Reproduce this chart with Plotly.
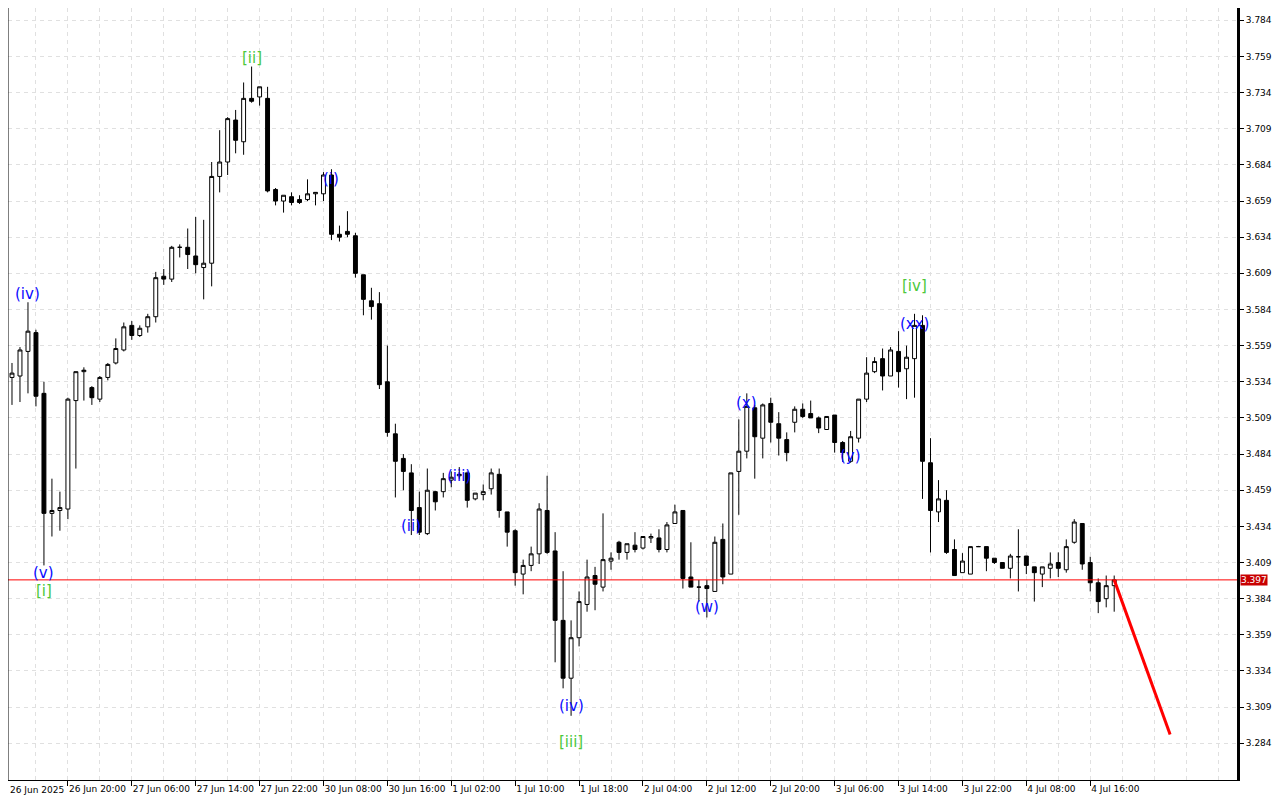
import plotly.graph_objects as go

opens = [3.559, 3.537, 3.538, 3.555, 3.568, 3.526, 3.443, 3.445, 3.446, 3.521,
         3.541, 3.530, 3.522, 3.537, 3.547, 3.556, 3.573, 3.566, 3.572, 3.579,
         3.607, 3.605, 3.627, 3.627, 3.621, 3.613, 3.616, 3.676, 3.686, 3.715,
         3.700, 3.730, 3.731, 3.730, 3.667, 3.659, 3.662, 3.660, 3.660, 3.664,
         3.664, 3.677, 3.636, 3.638, 3.635, 3.608, 3.590, 3.588, 3.534, 3.498,
         3.481, 3.471, 3.447, 3.429, 3.458, 3.458, 3.466, 3.469, 3.471, 3.453,
         3.456, 3.460, 3.470, 3.444, 3.431, 3.401, 3.407, 3.415, 3.445, 3.417,
         3.369, 3.329, 3.357, 3.380, 3.400, 3.392, 3.410, 3.423, 3.416, 3.421,
         3.419, 3.426, 3.426, 3.418, 3.436, 3.445, 3.399, 3.392, 3.393, 3.389,
         3.425, 3.401, 3.472, 3.486, 3.516, 3.495, 3.519, 3.505, 3.494, 3.506,
         3.515, 3.512, 3.509, 3.501, 3.511, 3.492, 3.479, 3.495, 3.522, 3.541,
         3.550, 3.538, 3.555, 3.543, 3.550, 3.573, 3.478, 3.444, 3.452, 3.418,
         3.402, 3.401, 3.420, 3.420, 3.412, 3.409, 3.405, 3.413, 3.4135, 3.406,
         3.401, 3.405, 3.409, 3.404, 3.423, 3.436, 3.409, 3.395, 3.384, 3.393]
highs = [3.563, 3.547, 3.558, 3.589, 3.570, 3.534, 3.467, 3.458, 3.523, 3.541,
         3.544, 3.531, 3.538, 3.547, 3.564, 3.575, 3.576, 3.573, 3.581, 3.610,
         3.612, 3.628, 3.629, 3.640, 3.648, 3.646, 3.686, 3.708, 3.717, 3.722,
         3.741, 3.752, 3.738, 3.738, 3.668, 3.663, 3.665, 3.663, 3.674, 3.665,
         3.679, 3.681, 3.642, 3.652, 3.637, 3.608, 3.599, 3.596, 3.559, 3.505,
         3.484, 3.477, 3.458, 3.474, 3.4585, 3.471, 3.472, 3.475, 3.472, 3.457,
         3.463, 3.474, 3.474, 3.444, 3.432, 3.411, 3.420, 3.450, 3.469, 3.430,
         3.403, 3.369, 3.389, 3.411, 3.406, 3.443, 3.416, 3.424, 3.422, 3.430,
         3.427, 3.429, 3.432, 3.437, 3.449, 3.445, 3.423, 3.397, 3.397, 3.427,
         3.436, 3.471, 3.508, 3.526, 3.518, 3.519, 3.523, 3.513, 3.499, 3.517,
         3.519, 3.521, 3.510, 3.510, 3.511, 3.493, 3.500, 3.522, 3.551, 3.551,
         3.557, 3.558, 3.569, 3.559, 3.581, 3.580, 3.495, 3.466, 3.459, 3.425,
         3.4155, 3.420, 3.4205, 3.420, 3.412, 3.409, 3.415, 3.432, 3.4135, 3.406,
         3.406, 3.416, 3.416, 3.425, 3.439, 3.436, 3.413, 3.398, 3.400, 3.400]
lows = [3.532, 3.518, 3.520, 3.526, 3.517, 3.407, 3.427, 3.431, 3.439, 3.474,
        3.521, 3.518, 3.520, 3.535, 3.546, 3.555, 3.563, 3.565, 3.568, 3.575,
        3.601, 3.603, 3.620, 3.612, 3.609, 3.591, 3.600, 3.665, 3.677, 3.692,
        3.691, 3.727, 3.725, 3.665, 3.656, 3.651, 3.656, 3.657, 3.659, 3.656,
        3.659, 3.632, 3.631, 3.634, 3.606, 3.580, 3.577, 3.529, 3.496, 3.454,
        3.459, 3.428, 3.428, 3.428, 3.445, 3.454, 3.461, 3.467, 3.447, 3.452,
        3.452, 3.456, 3.440, 3.420, 3.393, 3.387, 3.403, 3.408, 3.415, 3.340,
        3.322, 3.303, 3.351, 3.375, 3.376, 3.389, 3.404, 3.411, 3.411, 3.416,
        3.418, 3.4225, 3.416, 3.416, 3.436, 3.391, 3.392, 3.382, 3.371, 3.389,
        3.394, 3.401, 3.442, 3.481, 3.467, 3.481, 3.492, 3.483, 3.479, 3.499,
        3.509, 3.509, 3.4985, 3.501, 3.485, 3.4785, 3.478, 3.492, 3.520, 3.540,
        3.528, 3.538, 3.530, 3.522, 3.523, 3.453, 3.416, 3.437, 3.415, 3.400,
        3.402, 3.401, 3.420, 3.403, 3.408, 3.405, 3.398, 3.389, 3.401, 3.382,
        3.392, 3.398, 3.399, 3.402, 3.422, 3.404, 3.389, 3.374, 3.378, 3.375]
closes = [3.537, 3.540, 3.556, 3.569, 3.524, 3.443, 3.445, 3.447, 3.522, 3.541,
          3.542, 3.523, 3.537, 3.546, 3.557, 3.572, 3.566, 3.571, 3.579, 3.606,
          3.605, 3.627, 3.627, 3.622, 3.615, 3.616, 3.676, 3.686, 3.716, 3.701,
          3.730, 3.728, 3.738, 3.666, 3.659, 3.663, 3.658, 3.658, 3.664, 3.665,
          3.677, 3.636, 3.634, 3.636, 3.609, 3.591, 3.586, 3.532, 3.499, 3.479,
          3.472, 3.445, 3.430, 3.459, 3.451, 3.467, 3.468, 3.470, 3.452, 3.457,
          3.458, 3.471, 3.445, 3.430, 3.402, 3.407, 3.415, 3.446, 3.416, 3.369,
          3.329, 3.357, 3.382, 3.399, 3.394, 3.411, 3.412, 3.416, 3.422, 3.418,
          3.427, 3.427, 3.418, 3.435, 3.444, 3.398, 3.392, 3.392, 3.391, 3.423,
          3.399, 3.471, 3.486, 3.517, 3.496, 3.518, 3.506, 3.495, 3.485, 3.515,
          3.510, 3.509, 3.502, 3.510, 3.492, 3.485, 3.496, 3.522, 3.540, 3.548,
          3.538, 3.556, 3.541, 3.551, 3.573, 3.479, 3.445, 3.453, 3.416, 3.400,
          3.410, 3.420, 3.420, 3.412, 3.409, 3.405, 3.4135, 3.413, 3.407, 3.402,
          3.406, 3.408, 3.405, 3.420, 3.437, 3.408, 3.395, 3.382, 3.393, 3.397]

tick_bars = [0, 8, 16, 24, 32, 40, 48, 56, 64, 72, 80, 88, 96, 104, 112, 120, 128, 136]
tick_labels = ["26 Jun 2025", "26 Jun 20:00", "27 Jun 06:00", "27 Jun 14:00",
               "27 Jun 22:00", "30 Jun 08:00", "30 Jun 16:00", "1 Jul 02:00",
               "1 Jul 10:00", "1 Jul 18:00", "2 Jul 04:00", "2 Jul 12:00",
               "2 Jul 20:00", "3 Jul 06:00", "3 Jul 14:00", "3 Jul 22:00",
               "4 Jul 08:00", "4 Jul 16:00"]
price_ticks = [3.284, 3.309, 3.334, 3.359, 3.384, 3.409, 3.434, 3.459, 3.484, 3.509,
               3.534, 3.559, 3.584, 3.609, 3.634, 3.659, 3.684, 3.709, 3.734, 3.759, 3.784]

current_price = 3.397
forecast_bars = [139, 146]
forecast_prices = [3.397, 3.290]

wave_labels = ["(iv)", "(v)", "[i]", "[ii]", "(i)", "(ii)", "(iii)", "(iv)", "[iii]",
               "(w)", "(x)", "(y)", "[iv]", "(xx)"]
wave_bars = [3, 5, 5, 31, 41, 51, 57, 71, 71, 88, 93, 106, 114, 114]
wave_prices = [3.595, 3.402, 3.389, 3.758, 3.674, 3.434, 3.469, 3.310, 3.285,
               3.378, 3.519, 3.483, 3.600, 3.574]
wave_colors = ["blue", "blue", "green", "green", "blue", "blue", "blue", "blue", "green",
               "blue", "blue", "blue", "green", "blue"]

bars = list(range(len(opens)))

fig = go.Figure()
fig.add_trace(go.Candlestick(
    x=bars, open=opens, high=highs, low=lows, close=closes,
    increasing=dict(line=dict(color="black", width=1), fillcolor="white"),
    decreasing=dict(line=dict(color="black", width=1), fillcolor="black"),
    whiskerwidth=0, showlegend=False, hoverinfo="skip"))

fig.add_trace(go.Scatter(x=forecast_bars, y=forecast_prices, mode="lines",
                         line=dict(color="#ff0000", width=3), showlegend=False,
                         hoverinfo="skip"))

fig.add_shape(type="line", xref="paper", x0=0, x1=1, yref="y",
              y0=current_price, y1=current_price,
              line=dict(color="#ff0000", width=1))

col_map = {"blue": "#0a0aff", "green": "#4cc83c"}
for t, b, p, c in zip(wave_labels, wave_bars, wave_prices, wave_colors):
    fig.add_annotation(x=b, y=p, xref="x", yref="y", text=t, showarrow=False,
                       font=dict(family="DejaVu Sans", size=15, color=col_map[c]),
                       xanchor="center", yanchor="middle")

fig.add_annotation(x=1, xref="paper", y=current_price, yref="y",
                   text=f"{current_price:.3f}", showarrow=False, xanchor="left",
                   xshift=3, yanchor="middle", bgcolor="#c80000",
                   font=dict(family="DejaVu Sans", size=9, color="white"),
                   borderpad=0)

# first date label sits on the left frame edge (bar 0 is partly off-screen)
fig.add_annotation(x=0, xref="paper", y=0, yref="paper", text=tick_labels[0],
                   showarrow=False, xanchor="left", yanchor="top",
                   xshift=0, yshift=-3,
                   font=dict(family="DejaVu Sans", size=9, color="black"))

grid_col = "#e0e0e0"
grid_dash = "4px,4px"
fig.update_layout(
    width=1272, height=792,
    margin=dict(l=0, r=43, t=0, b=20, autoexpand=False),
    paper_bgcolor="white", plot_bgcolor="white",
    hovermode=False,
    xaxis=dict(
        range=[0.5, 154.375], rangeslider=dict(visible=False),
        tickmode="array", tickvals=tick_bars, ticktext=tick_labels,
        ticks="outside", ticklen=5, tickcolor="black", tickangle=0,
        ticklabelposition="outside right", automargin=False,
        tickfont=dict(family="DejaVu Sans", size=9, color="black"),
        showgrid=True, gridcolor=grid_col, griddash=grid_dash, gridwidth=1,
        minor=dict(dtick=4, tick0=0, showgrid=True, gridcolor=grid_col,
                   griddash=grid_dash, ticks=""),
        showline=True, linecolor="black", linewidth=1, mirror=True,
        zeroline=False, fixedrange=True),
    yaxis=dict(
        side="right", range=[3.2586, 3.7925], automargin=False,
        tickmode="array", tickvals=price_ticks,
        ticktext=[f"{v:.3f}" for v in price_ticks],
        ticks="outside", ticklen=4, tickcolor="black",
        tickfont=dict(family="DejaVu Sans", size=9, color="black"),
        showgrid=True, gridcolor=grid_col, griddash=grid_dash, gridwidth=1,
        showline=True, linecolor="black", linewidth=3,
        zeroline=False, fixedrange=True),
)
fig.add_shape(type="line", xref="paper", yref="paper", x0=0, x1=0, y0=0, y1=1,
              line=dict(color="black", width=1))

fig.write_html("out.html")
